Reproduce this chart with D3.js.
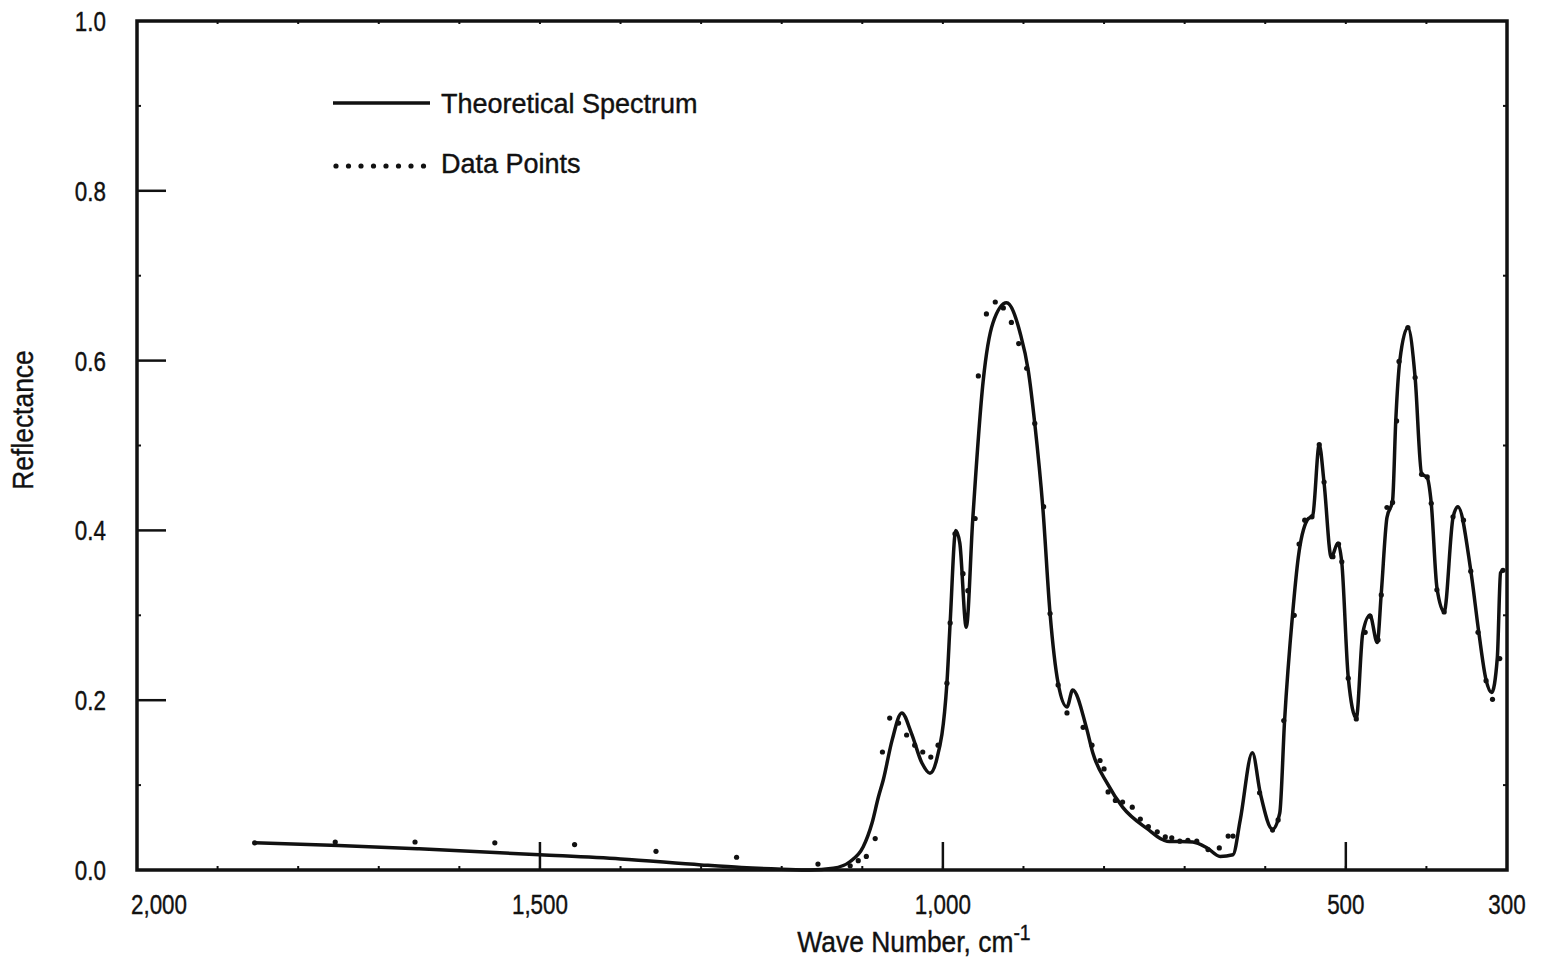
<!DOCTYPE html>
<html lang="en">
<head>
    <meta charset="UTF-8">
    <title>Reflectance spectrum</title>
    <script src="https://d3js.org/d3.v7.min.js"></script>
    <style>
        body { margin: 0; background: white; }
        text { font-family: "Liberation Sans", Arial, sans-serif; fill: #111; stroke: #111; stroke-width: 0.4px; }
    </style>
</head>
<body>
    <script>
        // theoretical spectrum: wave number (cm-1) and reflectance
        var curveWave = [1854, 1750, 1650, 1500, 1400, 1300, 1250, 1200, 1165, 1136, 1115, 1099, 1088, 1080, 1074, 1063, 1051, 1039, 1026, 1016, 1008, 995, 991, 984, 979, 971, 963, 950, 938, 921, 904, 894, 886, 876, 867, 857, 846, 839, 822, 814, 796, 777, 747, 722, 690, 672, 656, 640, 631, 616, 606, 591, 582, 576, 566, 559, 548, 541, 533, 527, 518, 510, 505, 497, 487, 479, 470, 461, 456, 449, 442, 438, 433, 423, 414, 406, 399, 394, 387, 378, 367, 361, 345, 335, 326, 319, 312, 308, 305];
        var curveRefl = [0.032, 0.029, 0.025, 0.018, 0.013, 0.006, 0.003, 0.001, 0.0, 0.002, 0.010, 0.027, 0.055, 0.086, 0.106, 0.153, 0.185, 0.161, 0.126, 0.114, 0.129, 0.220, 0.291, 0.400, 0.385, 0.286, 0.412, 0.576, 0.644, 0.668, 0.632, 0.588, 0.526, 0.427, 0.302, 0.220, 0.192, 0.212, 0.168, 0.138, 0.102, 0.074, 0.049, 0.034, 0.033, 0.026, 0.016, 0.018, 0.059, 0.138, 0.090, 0.048, 0.067, 0.176, 0.302, 0.368, 0.412, 0.418, 0.501, 0.456, 0.368, 0.385, 0.362, 0.227, 0.179, 0.279, 0.300, 0.268, 0.326, 0.415, 0.435, 0.530, 0.600, 0.639, 0.580, 0.467, 0.462, 0.432, 0.333, 0.304, 0.415, 0.428, 0.353, 0.280, 0.224, 0.209, 0.250, 0.350, 0.353];

        // measured data points
        var dotWave = [1854, 1754, 1655, 1556, 1457, 1356, 1256, 1155, 1115, 1105, 1095, 1084, 1075, 1066, 1055, 1045, 1035, 1025, 1015, 1006, 995, 991, 985, 975, 969, 960, 956, 946, 935, 925, 915, 906, 896, 886, 875, 867, 857, 846, 826, 815, 805, 800, 795, 786, 777, 765, 755, 745, 734, 724, 716, 706, 696, 685, 671, 657, 646, 640, 607, 591, 584, 577, 564, 558, 551, 542, 533, 527, 516, 509, 505, 497, 487, 476, 470, 460, 456, 449, 442, 437, 434, 423, 414, 406, 399, 394, 387, 378, 367, 354, 345, 336, 326, 318, 309, 305];
        var dotRefl = [0.032, 0.033, 0.033, 0.032, 0.030, 0.022, 0.015, 0.007, 0.005, 0.011, 0.016, 0.037, 0.139, 0.179, 0.173, 0.159, 0.147, 0.139, 0.133, 0.147, 0.220, 0.291, 0.396, 0.349, 0.329, 0.414, 0.582, 0.655, 0.669, 0.662, 0.645, 0.620, 0.591, 0.526, 0.428, 0.302, 0.218, 0.185, 0.168, 0.147, 0.129, 0.119, 0.092, 0.082, 0.080, 0.074, 0.060, 0.051, 0.045, 0.039, 0.038, 0.034, 0.035, 0.034, 0.024, 0.026, 0.040, 0.040, 0.091, 0.047, 0.059, 0.176, 0.300, 0.384, 0.412, 0.416, 0.501, 0.457, 0.369, 0.384, 0.363, 0.226, 0.178, 0.280, 0.299, 0.271, 0.324, 0.427, 0.433, 0.529, 0.599, 0.639, 0.580, 0.466, 0.463, 0.432, 0.330, 0.304, 0.416, 0.412, 0.352, 0.280, 0.223, 0.201, 0.249, 0.353];

        var xTicks = [2000, 1500, 1000, 500, 300];
        var xTickLabels = ["2,000", "1,500", "1,000", "500", "300"];
        var yTicks = [0.0, 0.2, 0.4, 0.6, 0.8, 1.0];

        var width = 1545, height = 961;
        var mLeft = 137, mRight = 1507, mTop = 21, mBottom = 870;
        var squeeze = 0.8;   // the original lettering is condensed

        var svg = d3.select("body")
            .append("svg")
            .attr("width", width)
            .attr("height", height);

        var x = d3.scaleLinear().domain([2000, 300]).range([mLeft, mRight]);
        var y = d3.scaleLinear().domain([0, 1]).range([mBottom, mTop]);

        // minor dots along the frame
        var g = svg.append("g");
        d3.range(1900, 300, -100).forEach(function(w) {
            g.append("line").attr("x1", x(w)).attr("x2", x(w))
                .attr("y1", mBottom).attr("y2", mBottom - 4)
                .attr("stroke", "#111").attr("stroke-width", 2);
            g.append("line").attr("x1", x(w)).attr("x2", x(w))
                .attr("y1", mTop).attr("y2", mTop + 3)
                .attr("stroke", "#111").attr("stroke-width", 2);
        });
        [0.1, 0.3, 0.5, 0.7, 0.9].forEach(function(v) {
            g.append("line").attr("x1", mLeft).attr("x2", mLeft + 4)
                .attr("y1", y(v)).attr("y2", y(v))
                .attr("stroke", "#111").attr("stroke-width", 2);
            g.append("line").attr("x1", mRight).attr("x2", mRight - 4)
                .attr("y1", y(v)).attr("y2", y(v))
                .attr("stroke", "#111").attr("stroke-width", 2);
        });

        // major ticks pointing inward
        svg.selectAll(".xt").data([1500, 1000, 500]).enter().append("line")
            .attr("x1", function(d) { return x(d); })
            .attr("x2", function(d) { return x(d); })
            .attr("y1", mBottom).attr("y2", mBottom - 28)
            .attr("stroke", "#111").attr("stroke-width", 2.5);
        svg.selectAll(".yt").data([0.2, 0.4, 0.6, 0.8]).enter().append("line")
            .attr("x1", mLeft).attr("x2", mLeft + 29)
            .attr("y1", function(d) { return y(d); })
            .attr("y2", function(d) { return y(d); })
            .attr("stroke", "#111").attr("stroke-width", 2.5);

        // frame
        svg.append("rect")
            .attr("x", mLeft).attr("y", mTop)
            .attr("width", mRight - mLeft).attr("height", mBottom - mTop)
            .attr("fill", "none").attr("stroke", "#111").attr("stroke-width", 3.5);

        // tick labels
        svg.selectAll(".xl").data(xTicks).enter().append("text")
            .attr("transform", function(d) {
                return "translate(" + (x(d) + (d === 2000 ? 22 : 0)) + ",914) scale(" + squeeze + ",1)";
            })
            .attr("text-anchor", "middle")
            .style("font-size", "28px")
            .text(function(d, i) { return xTickLabels[i]; });
        svg.selectAll(".yl").data(yTicks).enter().append("text")
            .attr("transform", function(d) {
                return "translate(106," + (y(d) + 10) + ") scale(" + squeeze + ",1)";
            })
            .attr("text-anchor", "end")
            .style("font-size", "28px")
            .text(function(d) { return d.toFixed(1); });

        // axis titles
        var xt = svg.append("text")
            .attr("transform", "translate(914,952) scale(0.88,1)")
            .attr("text-anchor", "middle")
            .style("font-size", "30px")
            .text("Wave Number, cm");
        xt.append("tspan").attr("dy", -12).style("font-size", "22px").text("-1");
        svg.append("text")
            .attr("transform", "translate(33,420) rotate(-90) scale(0.88,1)")
            .attr("text-anchor", "middle")
            .style("font-size", "30px")
            .text("Reflectance");

        // theoretical curve
        var pts = curveWave.map(function(w, i) { return [w, curveRefl[i]]; });
        var line = d3.line()
            .x(function(d) { return x(d[0]); })
            .y(function(d) { return y(d[1]); })
            .curve(d3.curveMonotoneX);
        svg.append("path")
            .datum(pts)
            .attr("d", line)
            .attr("fill", "none")
            .attr("stroke", "#111")
            .attr("stroke-width", 3.5)
            .attr("stroke-linejoin", "round");

        // data points
        svg.selectAll(".dot").data(dotWave).enter().append("circle")
            .attr("cx", function(d) { return x(d); })
            .attr("cy", function(d, i) { return y(dotRefl[i]); })
            .attr("r", 2.6)
            .attr("fill", "#111");

        // legend
        svg.append("line")
            .attr("x1", 333).attr("x2", 430).attr("y1", 103).attr("y2", 103)
            .attr("stroke", "#111").attr("stroke-width", 3.5);
        svg.append("text").attr("x", 441).attr("y", 113)
            .style("font-size", "27px").text("Theoretical Spectrum");
        svg.selectAll(".ld").data(d3.range(8)).enter().append("circle")
            .attr("cx", function(d) { return 336 + d * 12.5; })
            .attr("cy", 166)
            .attr("r", 2.6)
            .attr("fill", "#111");
        svg.append("text").attr("x", 441).attr("y", 173)
            .style("font-size", "27px").text("Data Points");
    </script>
</body>
</html>
